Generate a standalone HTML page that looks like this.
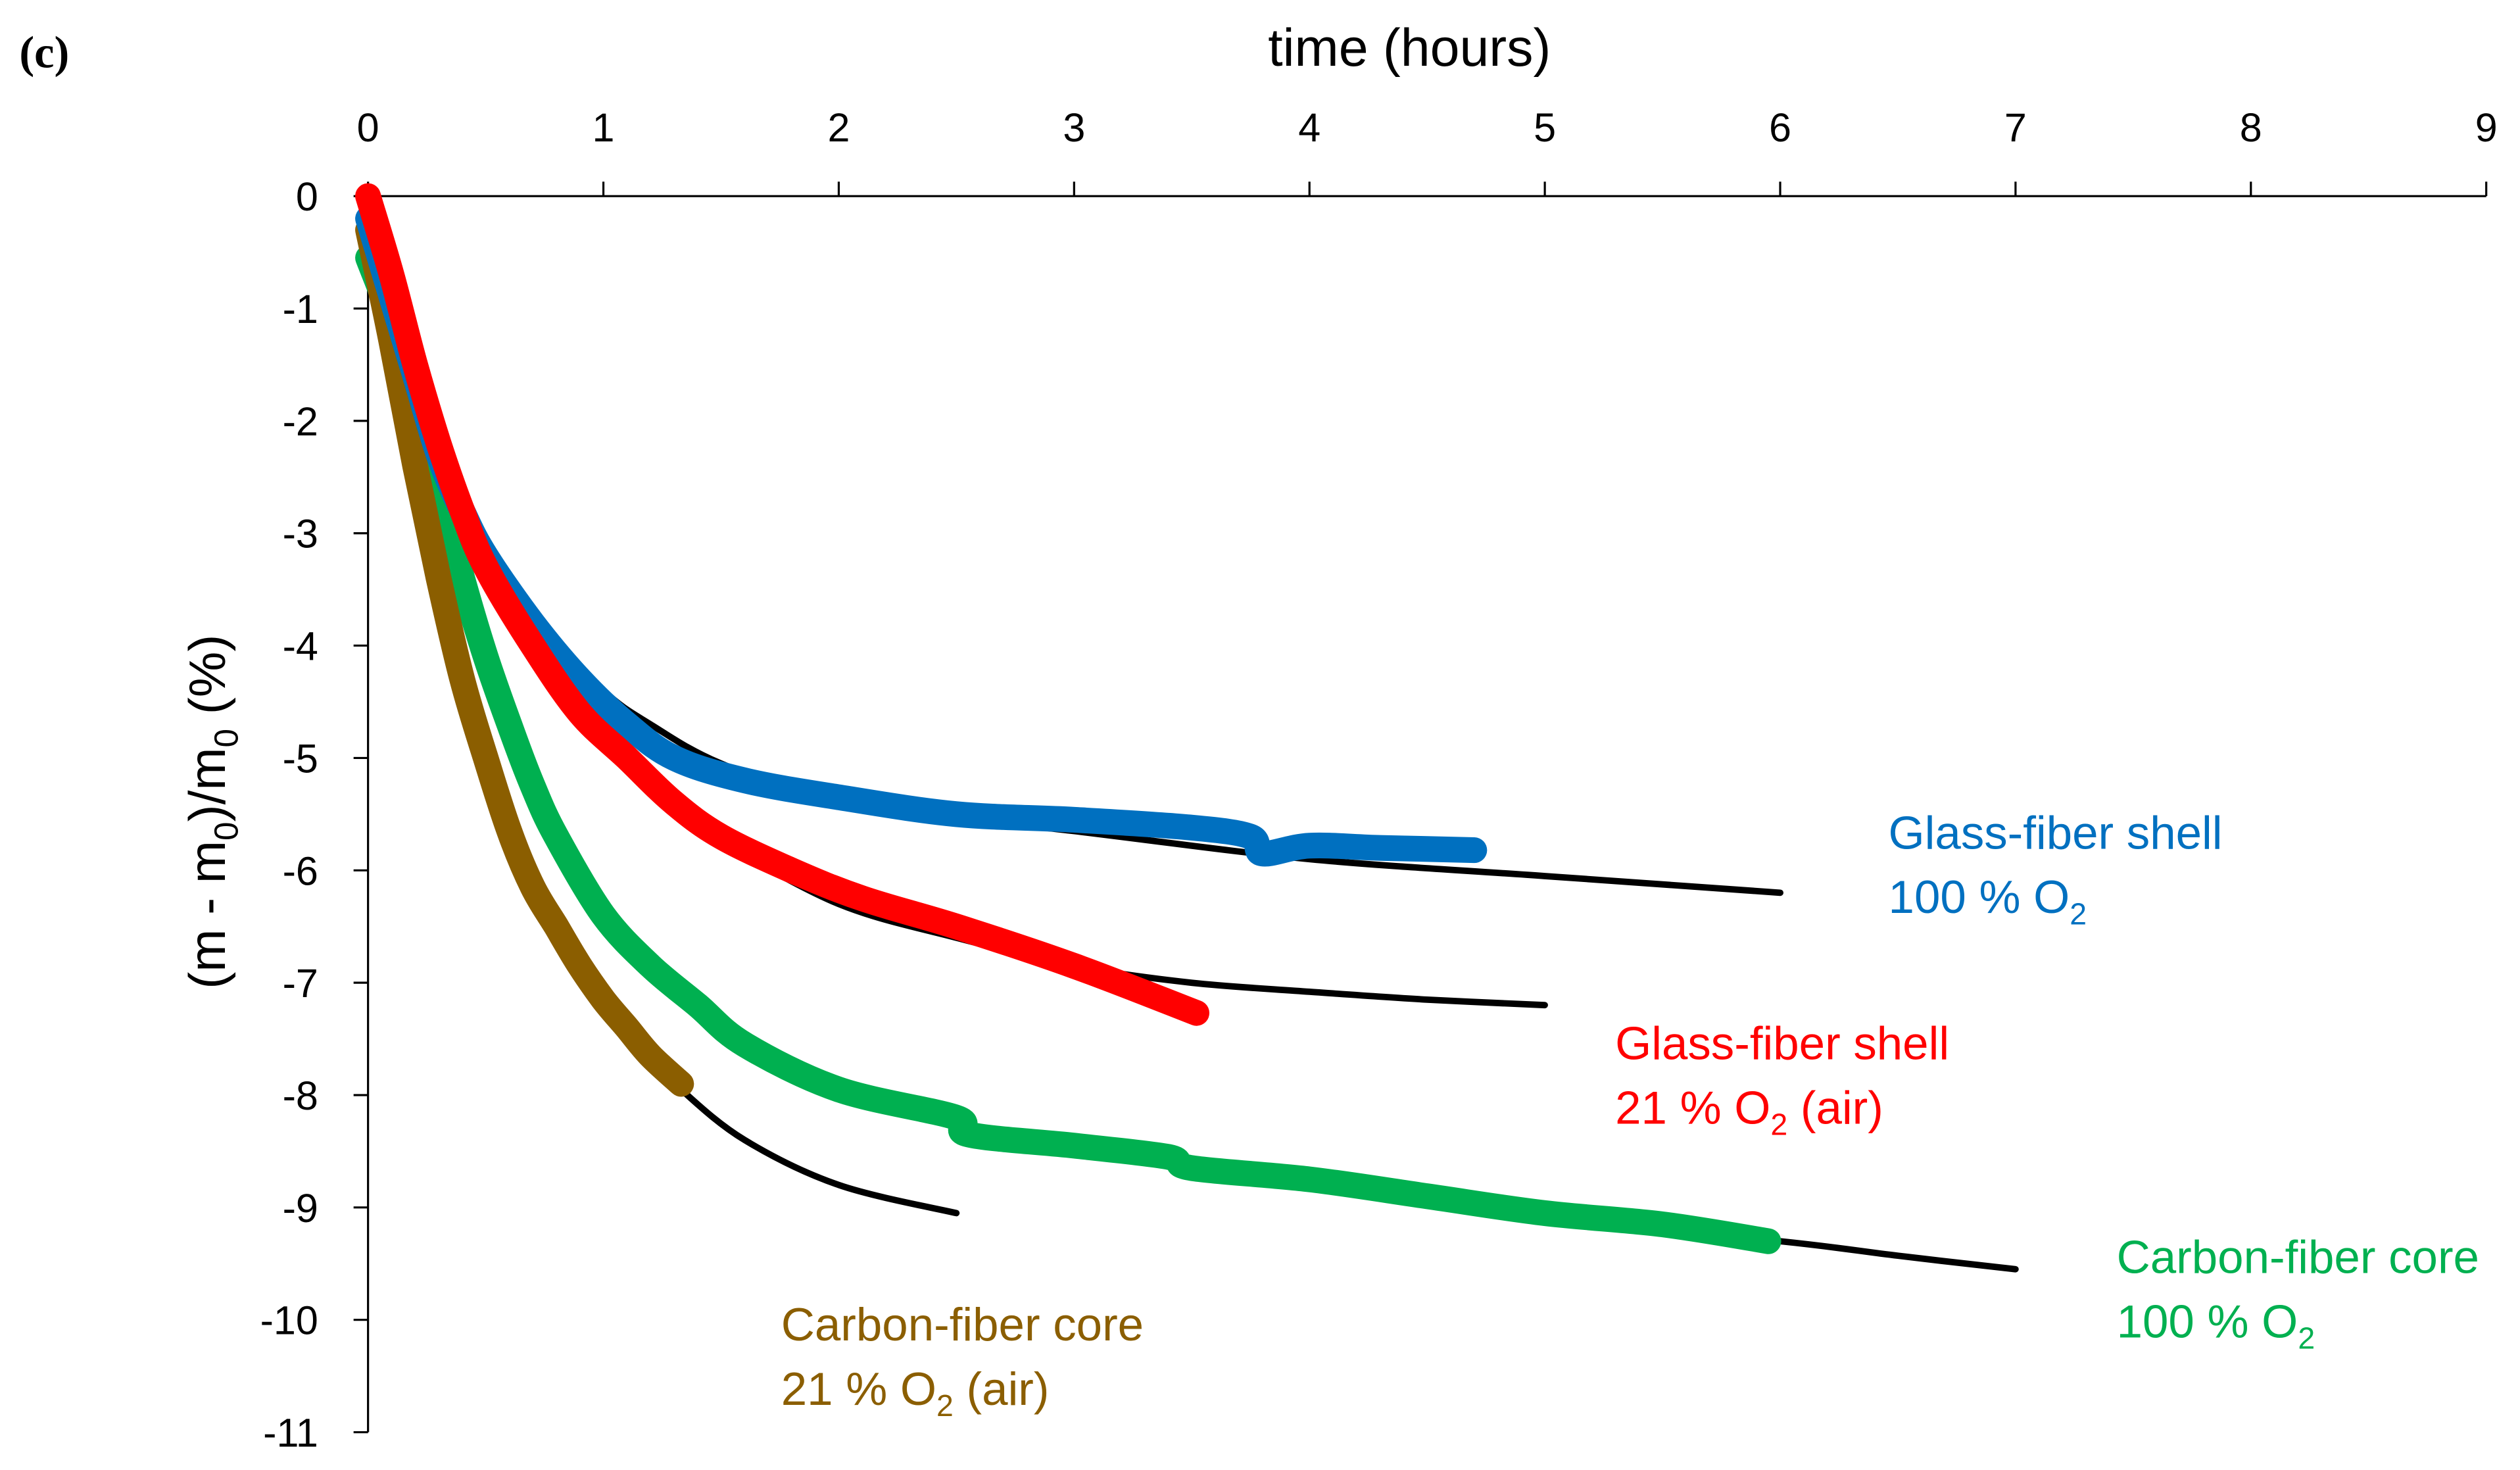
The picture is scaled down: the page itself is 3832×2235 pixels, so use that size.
<!DOCTYPE html>
<html><head><meta charset="utf-8">
<style>html,body{margin:0;padding:0;background:#fff;}svg{display:block;}</style>
</head><body>
<svg id="chart" width="3832" height="2235" viewBox="0 0 1568 914.5" xmlns="http://www.w3.org/2000/svg" font-family="'Liberation Sans', sans-serif">
<rect width="1568" height="914.5" fill="#fff"/>
<text x="12" y="42" font-family="'Liberation Serif', serif" font-weight="bold" font-size="28">(c)</text>
<text x="877" y="41" text-anchor="middle" font-size="33">time (hours)</text>
<text transform="translate(140,505) rotate(-90)" text-anchor="middle" font-size="32">(m - m<tspan font-size="21" dy="8">0</tspan><tspan dy="-8">)/m</tspan><tspan font-size="21" dy="8">0</tspan><tspan dy="-8"> (%)</tspan></text>
<g id="axes"></g>
<g id="fits"></g>
<g id="series"></g>
<g font-size="29">
<text x="1175" y="528" fill="#0070c0">Glass-fiber shell</text>
<text x="1175" y="568" fill="#0070c0">100 % O<tspan font-size="19" dy="7">2</tspan></text>
<text x="1005" y="659" fill="#ff0000">Glass-fiber shell</text>
<text x="1005" y="699" fill="#ff0000">21 % O<tspan font-size="19" dy="7">2</tspan><tspan dy="-7"> (air)</tspan></text>
<text x="1317" y="792" fill="#00b050">Carbon-fiber core</text>
<text x="1317" y="832" fill="#00b050">100 % O<tspan font-size="19" dy="7">2</tspan></text>
<text x="486" y="834" fill="#8b5e00">Carbon-fiber core</text>
<text x="486" y="874" fill="#8b5e00">21 % O<tspan font-size="19" dy="7">2</tspan><tspan dy="-7"> (air)</tspan></text>
</g>
</svg>
<script>
const xTicks = [0,1,2,3,4,5,6,7,8,9];
const yTicks = [0,-1,-2,-3,-4,-5,-6,-7,-8,-9,-10,-11];
const blueT = [0,0.1,0.2,0.3,0.4,0.5,0.7,0.9,1.1,1.3,1.6,2.0,2.5,3.0,3.5,3.75,3.8,4.0,4.3,4.7];
const blueY = [-0.2,-0.9,-1.6,-2.3,-2.8,-3.2,-3.8,-4.3,-4.7,-5.0,-5.2,-5.35,-5.5,-5.55,-5.62,-5.7,-5.85,-5.78,-5.8,-5.82];
const redT = [0,0.1,0.2,0.3,0.4,0.5,0.7,0.9,1.1,1.3,1.5,1.8,2.1,2.5,3.0,3.52];
const redY = [0,-0.7,-1.5,-2.2,-2.8,-3.3,-4.0,-4.6,-5.0,-5.4,-5.7,-6.0,-6.25,-6.5,-6.85,-7.27];
const greenT = [0,0.1,0.2,0.3,0.4,0.5,0.6,0.7,0.8,1.0,1.2,1.4,1.6,2.0,2.5,2.55,3.0,3.4,3.5,4.0,4.5,5.0,5.5,5.95];
const greenY = [-0.55,-1.1,-1.8,-2.6,-3.4,-4.1,-4.7,-5.25,-5.7,-6.4,-6.85,-7.2,-7.55,-7.95,-8.2,-8.35,-8.45,-8.55,-8.65,-8.75,-8.9,-9.05,-9.15,-9.3];
const brownT = [0,0.1,0.2,0.3,0.4,0.5,0.6,0.7,0.8,0.9,1.0,1.1,1.2,1.33];
const brownY = [-0.3,-1.3,-2.4,-3.4,-4.3,-5.0,-5.65,-6.15,-6.5,-6.85,-7.15,-7.4,-7.65,-7.9];
const fitBlueT = [0.7,1.0,1.2,1.5,2.0,3.0,4.0,5.0,6.0];
const fitBlueY = [-3.75,-4.4,-4.7,-5.05,-5.4,-5.65,-5.9,-6.05,-6.2];
const fitRedT = [1.5,2.0,2.5,3.0,3.5,4.0,4.5,5.0];
const fitRedY = [-5.75,-6.3,-6.6,-6.85,-7.0,-7.08,-7.15,-7.2];
const fitGreenT = [4.0,5.0,6.0,6.5,7.0];
const fitGreenY = [-8.8,-9.1,-9.3,-9.43,-9.55];
const fitBrownT = [1.2,1.33,1.6,2.0,2.5];
const fitBrownY = [-7.65,-7.95,-8.4,-8.8,-9.05];

const NS='http://www.w3.org/2000/svg';
const X = t => 229 + t*(1547-229)/9;
const Y = v => 122 - v*(891-122)/11;
function mk(tag, attrs, parent){const e=document.createElementNS(NS,tag);for(const k in attrs)e.setAttribute(k,attrs[k]);parent.appendChild(e);return e;}
const axes=document.getElementById('axes');
let a=mk('line',{x1:X(0),y1:Y(0),x2:X(9),y2:Y(0),stroke:'#000','stroke-width':1.3},axes);


a=mk('line',{x1:X(0),y1:Y(0),x2:X(0),y2:Y(-11),stroke:'#000','stroke-width':1.3},axes);


xTicks.forEach(t=>{
  const l=mk('line',{x1:X(t),y1:Y(0),x2:X(t),y2:Y(0)-9,stroke:'#000','stroke-width':1.3},axes);
  
  
  const tx=mk('text',{x:X(t),y:88,'text-anchor':'middle','font-size':25},axes);
  tx.textContent=t;
  
  
});
yTicks.forEach(v=>{
  const l=mk('line',{x1:X(0)-9,y1:Y(v),x2:X(0),y2:Y(v),stroke:'#000','stroke-width':1.3},axes);
  
  
  const tx=mk('text',{x:198,y:Y(v)+9,'text-anchor':'end','font-size':25},axes);
  tx.textContent=v;
  
  
});
function path(ts,vs){
  const p=ts.map((t,i)=>[X(t),Y(vs[i])]);
  let d='M'+p[0][0].toFixed(1)+','+p[0][1].toFixed(1);
  for(let i=0;i<p.length-1;i++){
    const p0=p[i-1]||p[i],p1=p[i],p2=p[i+1],p3=p[i+2]||p2;
    const c1=[p1[0]+(p2[0]-p0[0])/6,p1[1]+(p2[1]-p0[1])/6];
    const c2=[p2[0]-(p3[0]-p1[0])/6,p2[1]-(p3[1]-p1[1])/6];
    d+='C'+c1[0].toFixed(1)+','+c1[1].toFixed(1)+' '+c2[0].toFixed(1)+','+c2[1].toFixed(1)+' '+p2[0].toFixed(1)+','+p2[1].toFixed(1);
  }
  return d;
}
const fits=document.getElementById('fits');
[[fitBlueT,fitBlueY,'fit-glass-100'],[fitRedT,fitRedY,'fit-glass-air'],[fitGreenT,fitGreenY,'fit-carbon-100'],[fitBrownT,fitBrownY,'fit-carbon-air']].forEach(s=>{
  const p=mk('path',{d:path(s[0],s[1]),fill:'none',stroke:'#000','stroke-width':4,'stroke-linecap':'round','stroke-linejoin':'round'},fits);
  
  
});
const ser=document.getElementById('series');
[[greenT,greenY,'#00b050','series-carbon-100'],[brownT,brownY,'#8b5e00','series-carbon-air'],[blueT,blueY,'#0070c0','series-glass-100'],[redT,redY,'#ff0000','series-glass-air']].forEach(s=>{
  const p=mk('path',{d:path(s[0],s[1]),fill:'none',stroke:s[2],'stroke-width':16,'stroke-linecap':'round','stroke-linejoin':'round'},ser);
  
  
});
</script>
</body></html>
